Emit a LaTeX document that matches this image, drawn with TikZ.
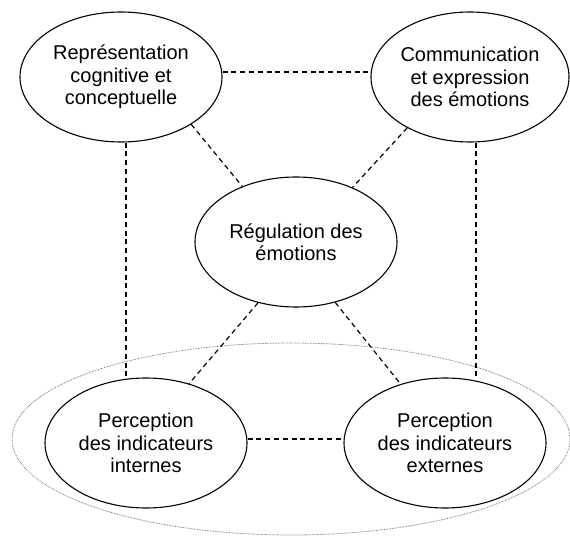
\documentclass[tikz,border=0pt]{standalone}
\usepackage{fontspec}
\setmainfont{Liberation Sans}
\usetikzlibrary{shapes.geometric}
\tikzset{
  bubble/.style={draw=black, line width=1.1pt, ellipse, minimum width=202pt, minimum height=130pt, inner sep=0pt, align=center, font=\fontsize{20}{22.5}\selectfont},
  link/.style={draw=black, line width=1.2pt, dash pattern=on 5pt off 3.8pt},
  groupring/.style={draw=black!55, line width=0.8pt, dash pattern=on 0.7pt off 0.9pt, ellipse, minimum width=558pt, minimum height=192pt, inner sep=0pt}
}
\begin{document}
\begin{tikzpicture}[x=1pt,y=-1pt]
\useasboundingbox (0,0) rectangle (570,537);
\node[groupring] (group) at (291,439) {};
\node[bubble] (tl) at (121,77) {Représentation\\cognitive et\\conceptuelle};
\node[bubble, minimum width=198pt] (tr) at (470,77) {Communication\\et expression\\des émotions};
\node[bubble] (c) at (296,242) {Régulation des\\émotions};
\node[bubble] (bl) at (146,443) {Perception\\des indicateurs\\internes};
\node[bubble] (br) at (445,443) {Perception\\des indicateurs\\externes};
% horizontals
\draw[link] ([yshift=5pt]tl.east) -- ([yshift=5pt]tl.east -| tr.west);
\draw[link] ([yshift=4pt]bl.east) -- ([yshift=4pt]bl.east -| br.west);
% verticals
\draw[link] ([xshift=5pt]tl.south) -- ([xshift=5pt]tl.south |- bl.north);
\draw[link] ([xshift=6pt]tr.south) -- ([xshift=6pt]tr.south |- br.north);
% diagonals
\draw[link] (tl.-34) -- (c.134);
\draw[link] (tr.219) -- (c.44);
\draw[link] (c.-122) -- (bl.54);
\draw[link] (c.-57) -- (br.127);
\end{tikzpicture}
\end{document}
